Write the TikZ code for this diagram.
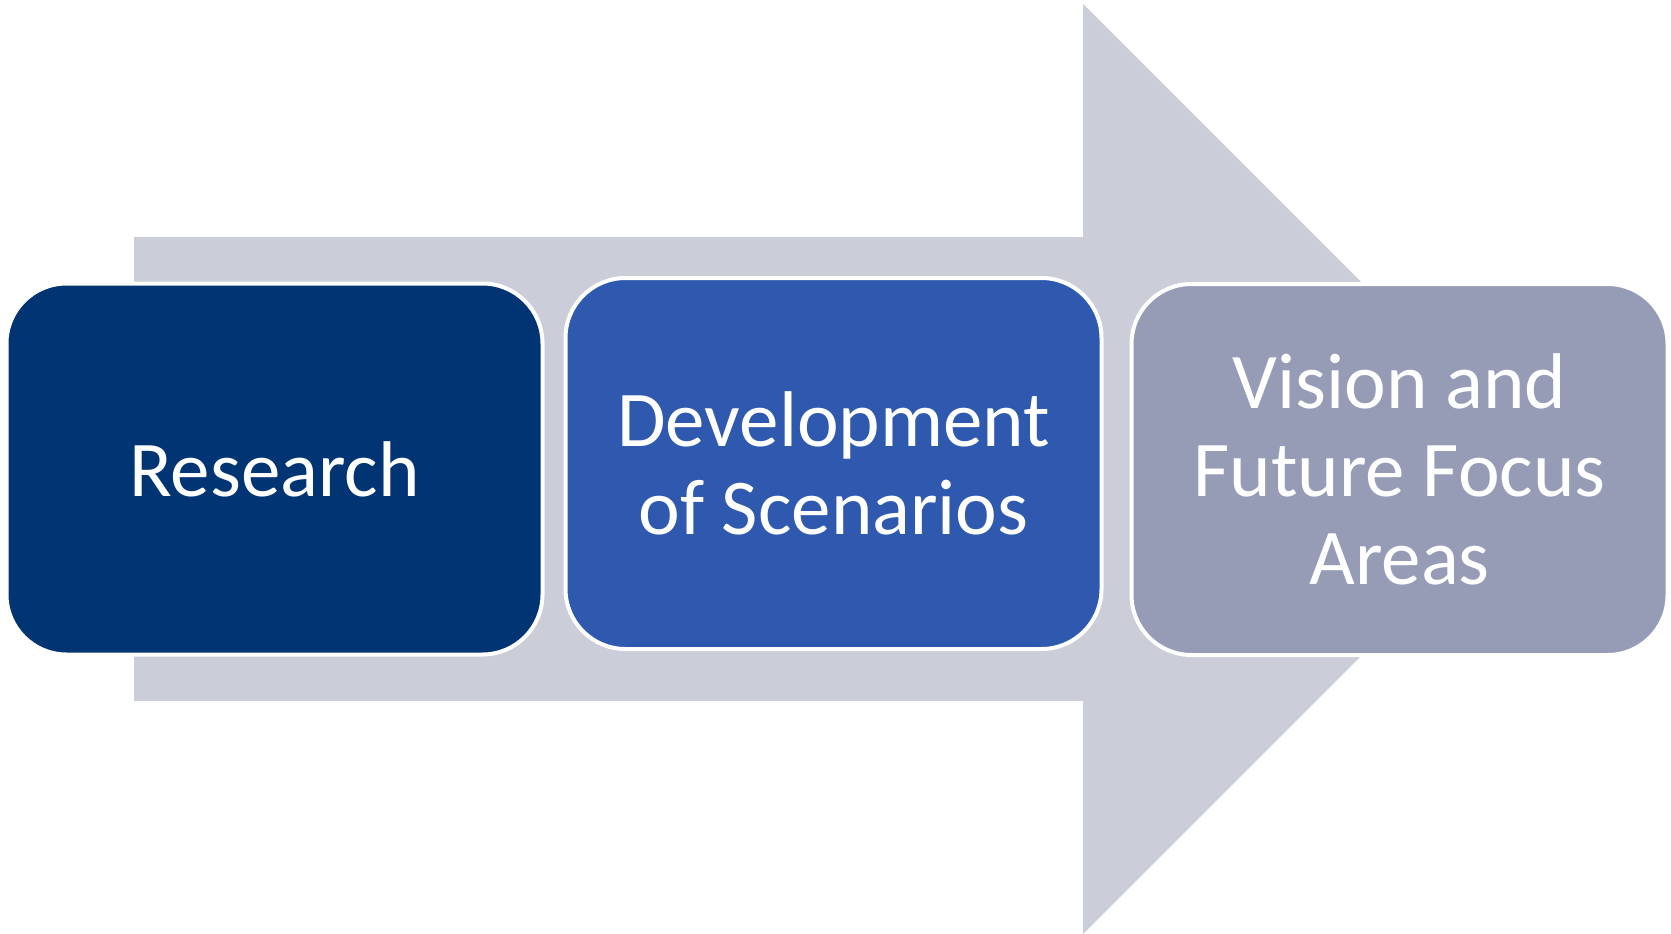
\documentclass[tikz,border=0pt]{standalone}
\usepackage{fontspec}
\setmainfont{Carlito}
\usepackage{tikz}
\usetikzlibrary{positioning}
\definecolor{setaCinza}{HTML}{CBCED9}
\definecolor{azulEscuro}{HTML}{003473}
\definecolor{azulMedio}{HTML}{2F59AF}
\definecolor{cinzaAzul}{HTML}{979CB6}

\begin{document}
\begin{tikzpicture}[x=1pt, y=-1pt,
    etapa/.style={rounded corners=60pt, draw=white, line width=4pt, outer sep=0pt,
        minimum width=536pt, minimum height=371pt, inner sep=0pt,
        text=white, align=center, font=\fontsize{79}{88}\selectfont}]

    \useasboundingbox (0,0) rectangle (1671,934);

    % seta de fundo, ponta a 45 graus
    \fill[setaCinza] (134,237) -- (1083,237) -- (1083,4) -- (1548,469)
        -- (1083,934) -- (1083,701) -- (134,701) -- cycle;

    \node[etapa, fill=azulEscuro] (pesquisa) at (274.5,469) {Research};
    \node[etapa, fill=azulMedio, right=23pt of pesquisa, yshift=5.5pt] (cenarios) {Development\\of Scenarios};
    \node[etapa, fill=cinzaAzul, right=30pt of cenarios, yshift=-6pt] (visao) {Vision and\\Future Focus\\Areas};

\end{tikzpicture}
\end{document}
